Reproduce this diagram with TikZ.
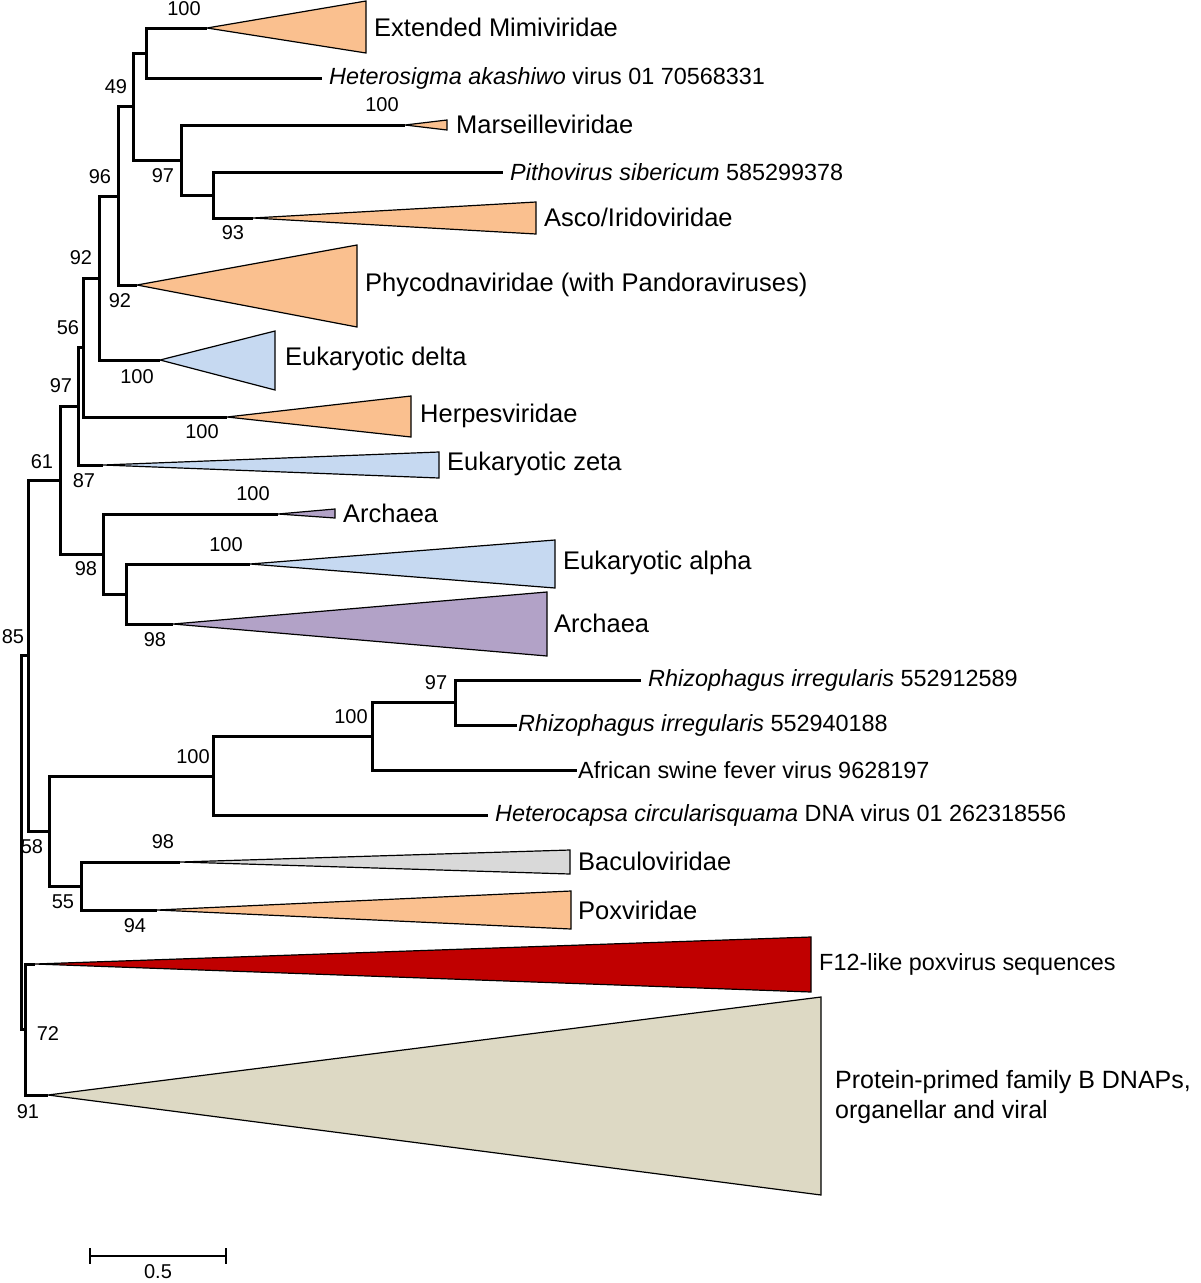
\documentclass[tikz,border=0pt]{standalone}
\usepackage{fontspec}
\setmainfont{Liberation Sans}
\usetikzlibrary{positioning}
\definecolor{vorange}{RGB}{250,192,143}
\definecolor{vblue}{RGB}{198,217,241}
\definecolor{vpurple}{RGB}{178,162,199}
\definecolor{vgrey}{RGB}{217,217,217}
\definecolor{vred}{RGB}{192,0,0}
\definecolor{vbeige}{RGB}{221,217,196}
\tikzset{
  branch/.style={line width=3pt, line join=miter},
  clade/.style={draw=black, line width=1.2pt, line join=miter, fill=#1},
  groupname/.style={anchor=west, inner sep=0pt,
    font=\fontsize{25.5}{30}\selectfont},
  leafname/.style={inner sep=0pt, font=\fontsize{23.4}{28}\selectfont},
  boot/.style={inner sep=0pt, font=\fontsize{20}{24}\selectfont},
  scalebar/.style={line width=2.6pt},
}

\begin{document}
\begin{tikzpicture}[x=1pt, y=-1pt, node distance=7pt]
  \useasboundingbox (0,0) rectangle (1200,1283);
  % internal nodes
  \coordinate (rt) at (21,842.5);
  \coordinate (n85) at (28,655.5);
  \coordinate (n61) at (60,480);
  \coordinate (n97a) at (78,406);
  \coordinate (n56) at (83,347.5);
  \coordinate (n92a) at (99,278);
  \coordinate (n96) at (118,196);
  \coordinate (n49) at (133,106.5);
  \coordinate (nmim) at (146,53);
  \coordinate (n97b) at (181,160);
  \coordinate (n93) at (213,195);
  \coordinate (n98a) at (103,554);
  \coordinate (n98b) at (126,594);
  \coordinate (n58) at (49,831);
  \coordinate (n100a) at (213,776);
  \coordinate (n100b) at (372,736);
  \coordinate (n97c) at (455,702.5);
  \coordinate (n55) at (81,886);
  \coordinate (n72) at (25,1029.5);
  % tips
  \coordinate (tMimi) at (207,28);
  \coordinate (tHasv) at (322,78);
  \coordinate (tMars) at (405,125);
  \coordinate (tPitho) at (503,172);
  \coordinate (tAsco) at (253,218);
  \coordinate (tPhyco) at (137,285);
  \coordinate (tDelta) at (160,360);
  \coordinate (tHerpes) at (227,417);
  \coordinate (tZeta) at (103,465);
  \coordinate (tArchS) at (278,514);
  \coordinate (tAlpha) at (250,564);
  \coordinate (tArchL) at (173,624);
  \coordinate (tRhizA) at (641,680);
  \coordinate (tRhizB) at (517,725);
  \coordinate (tAsfv) at (577,770);
  \coordinate (tHcdv) at (488,815);
  \coordinate (tBacu) at (180,862);
  \coordinate (tPox) at (157,910);
  \coordinate (tF12) at (35,964);
  \coordinate (tProt) at (48,1095);

  % collapsed clades
  \draw[clade=vorange] (tMimi) -- (366,1) -- (366,53) -- cycle;
  \draw[clade=vorange] (tMars) -- (447,120) -- (447,130) -- cycle;
  \draw[clade=vorange] (tAsco) -- (536,202) -- (536,234) -- cycle;
  \draw[clade=vorange] (tPhyco) -- (357,245) -- (357,327) -- cycle;
  \draw[clade=vblue] (tDelta) -- (275,331) -- (275,390) -- cycle;
  \draw[clade=vorange] (tHerpes) -- (411,396) -- (411,437) -- cycle;
  \draw[clade=vblue] (tZeta) -- (439,452) -- (439,478) -- cycle;
  \draw[clade=vpurple] (tArchS) -- (335,509) -- (335,518) -- cycle;
  \draw[clade=vblue] (tAlpha) -- (555,540) -- (555,588) -- cycle;
  \draw[clade=vpurple] (tArchL) -- (547,592) -- (547,656) -- cycle;
  \draw[clade=vgrey] (tBacu) -- (570,850) -- (570,874) -- cycle;
  \draw[clade=vorange] (tPox) -- (571,891) -- (571,929) -- cycle;
  \draw[clade=vred] (tF12) -- (811,937) -- (811,992) -- cycle;
  \draw[clade=vbeige] (tProt) -- (821,997) -- (821,1195) -- cycle;

  % branches
  \draw[branch] (rt) |- (n85) (rt) |- (n72);
  \draw[branch] (n85) |- (n61) (n85) |- (n58);
  \draw[branch] (n61) |- (n97a) (n61) |- (n98a);
  \draw[branch] (n97a) |- (n56) (n97a) |- (tZeta);
  \draw[branch] (n56) |- (n92a) (n56) |- (tHerpes);
  \draw[branch] (n92a) |- (n96) (n92a) |- (tDelta);
  \draw[branch] (n96) |- (n49) (n96) |- (tPhyco);
  \draw[branch] (n49) |- (nmim) (n49) |- (n97b);
  \draw[branch] (nmim) |- (tMimi) (nmim) |- (tHasv);
  \draw[branch] (n97b) |- (tMars) (n97b) |- (n93);
  \draw[branch] (n93) |- (tPitho) (n93) |- (tAsco);
  \draw[branch] (n98a) |- (tArchS) (n98a) |- (n98b);
  \draw[branch] (n98b) |- (tAlpha) (n98b) |- (tArchL);
  \draw[branch] (n58) |- (n100a) (n58) |- (n55);
  \draw[branch] (n100a) |- (n100b) (n100a) |- (tHcdv);
  \draw[branch] (n100b) |- (n97c) (n100b) |- (tAsfv);
  \draw[branch] (n97c) |- (tRhizA) (n97c) |- (tRhizB);
  \draw[branch] (n55) |- (tBacu) (n55) |- (tPox);
  \draw[branch] (n72) |- (tF12) (n72) |- (tProt);

  % clade names
  \node[groupname] (gMimi) at (374,27) {Extended Mimiviridae};
  \node[groupname] (gMars) at (456,124) {Marseilleviridae};
  \node[groupname] (gAsco) at (544,217) {Asco/Iridoviridae};
  \node[groupname] (gPhyco) at (365,285) {Phycodnaviridae (with Pandoraviruses)};
  \node[groupname] (gDelta) at (285,359) {Eukaryotic delta};
  \node[groupname] (gHerpes) at (420,416) {Herpesviridae};
  \node[groupname] (gZeta) at (447,464) {Eukaryotic zeta};
  \node[groupname] (gArchS) at (343,513) {Archaea};
  \node[groupname] (gAlpha) at (563,563) {Eukaryotic alpha};
  \node[groupname] (gArchL) at (554,623) {Archaea};
  \node[groupname] (gBacu) at (578,861) {Baculoviridae};
  \node[groupname] (gPox) at (578,910) {Poxviridae};
  \node[leafname, anchor=west] (gF12) at (819,964) {F12-like poxvirus sequences};
  \node[groupname, align=left, font=\fontsize{25}{30}\selectfont]
    (gProt) at (835,1097) {Protein-primed family B DNAPs,\\organellar and viral};

  % leaf names
  \node[leafname, right=of tHasv] (lHasv) {\textit{Heterosigma akashiwo} virus 01 70568331};
  \node[leafname, right=of tPitho] (lPitho) {\textit{Pithovirus sibericum} 585299378};
  \node[leafname, right=of tRhizA] (lRhizA) {\textit{Rhizophagus irregularis} 552912589};
  \node[leafname, right=1pt of tRhizB] (lRhizB) {\textit{Rhizophagus irregularis} 552940188};
  \node[leafname, right=1pt of tAsfv] (lAsfv) {African swine fever virus 9628197};
  \node[leafname, right=of tHcdv] (lHcdv) {\textit{Heterocapsa circularisquama} DNA virus 01 262318556};

  % support values
  \node[boot] (b1) at (184,9) {100};
  \node[boot] (b2) at (116,87) {49};
  \node[boot] (b3) at (382,105) {100};
  \node[boot] (b4) at (100,177) {96};
  \node[boot] (b5) at (163,176) {97};
  \node[boot] (b6) at (233,233) {93};
  \node[boot] (b7) at (81,258) {92};
  \node[boot] (b8) at (120,301) {92};
  \node[boot] (b9) at (68,328) {56};
  \node[boot] (b10) at (137,377) {100};
  \node[boot] (b11) at (61,386) {97};
  \node[boot] (b12) at (202,432) {100};
  \node[boot] (b13) at (42,462) {61};
  \node[boot] (b14) at (84,481) {87};
  \node[boot] (b15) at (253,494) {100};
  \node[boot] (b16) at (226,545) {100};
  \node[boot] (b17) at (86,569) {98};
  \node[boot] (b18) at (155,640) {98};
  \node[boot] (b19) at (13,637) {85};
  \node[boot] (b20) at (436,683) {97};
  \node[boot] (b21) at (351,717) {100};
  \node[boot] (b22) at (193,757) {100};
  \node[boot] (b23) at (163,842) {98};
  \node[boot] (b24) at (32,847) {58};
  \node[boot] (b25) at (63,902) {55};
  \node[boot] (b26) at (135,926) {94};
  \node[boot] (b27) at (48,1034) {72};
  \node[boot] (b28) at (28,1112) {91};

  % scale bar
  \coordinate (sA) at (90,1256);
  \coordinate (sB) at (226,1256);
  \draw[scalebar] (sA) -- (sB);
  \draw[scalebar] ([yshift=8pt]sA) -- ([yshift=-8pt]sA);
  \draw[scalebar] ([yshift=8pt]sB) -- ([yshift=-8pt]sB);
  \node[boot] (sLab) at (158,1272) {0.5};
\end{tikzpicture}
\end{document}
